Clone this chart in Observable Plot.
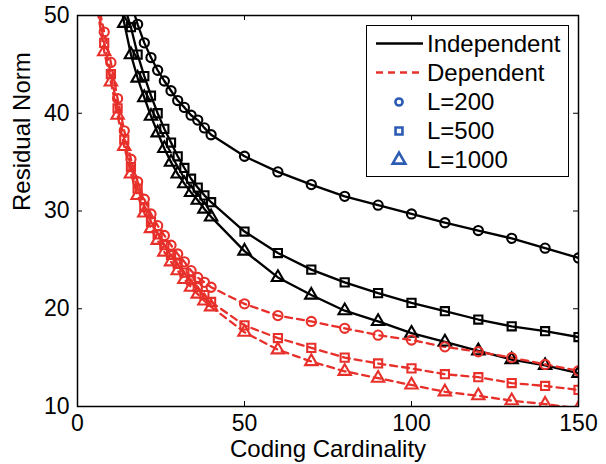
<!DOCTYPE html>
<html>
<head>
<meta charset="utf-8">
<script src="https://cdn.jsdelivr.net/npm/d3@7"></script>
<script src="https://cdn.jsdelivr.net/npm/@observablehq/plot@0.6"></script>
<style>
  body { margin: 0; background: #fff; }
  #wrap { position: relative; width: 606px; height: 464px; font-family: "Liberation Sans", Arial, Helvetica, sans-serif; }
  #legend { position: absolute; left: 366px; top: 25px; width: 203px; height: 152px; box-sizing: border-box;
            border: 1.4px solid #000; background: #fff; }
  .row { position: absolute; left: 0; height: 29px; display: flex; align-items: center; font-size: 24px; color: #000; }
  .row svg { width: 60px; height: 29px; flex: none; }
</style>
</head>
<body>
<div id="wrap"><div id="legend"></div></div>
<script>
// ---------- data ----------
const xTicks = [0, 50, 100, 150];
const yTicks = [10, 20, 30, 40, 50];
const typeNames = ["Independent", "Dependent"];
const lLabels = ["L=200", "L=500", "L=1000"];

const xIndep200 = [16,18,20,22,24,26,28,30,32,34,36,38,40,50,60,70,80,90,100,110,120,130,140,150];
const yIndep200 = [51.3,49.1,47.2,45.7,44.4,43.3,42.3,41.3,40.6,39.8,39.3,38.5,37.8,35.6,34.0,32.7,31.5,30.6,29.7,28.8,28.0,27.2,26.2,25.2];

const xIndep500 = [14,16,18,20,22,24,26,28,30,32,34,36,38,40,50,60,70,80,90,100,110,120,130,140,150];
const yIndep500 = [51.0,48.8,46.0,43.8,41.8,40.0,38.4,37.0,35.6,34.4,33.3,32.4,31.6,30.9,27.9,25.7,24.0,22.7,21.6,20.6,19.75,18.9,18.2,17.7,17.1];

const xIndep1000 = [12,14,16,18,20,22,24,26,28,30,32,34,36,38,40,50,60,70,80,90,100,110,120,130,140,150];
const yIndep1000 = [52.8,49.2,46.0,43.6,41.6,39.7,38.0,36.4,35.0,33.8,32.8,31.9,31.1,30.2,29.4,25.9,23.2,21.4,19.8,18.7,17.5,16.6,15.7,14.8,14.2,13.4];

const xDep = [6,8,10,12,14,16,18,20,22,24,26,28,30,32,34,36,38,40,50,60,70,80,90,100,110,120,130,140,150];
const yDep200  = [51.5,48.3,45.2,41.5,38.2,35.3,33.0,31.2,29.7,28.5,27.5,26.5,25.6,24.8,23.9,23.2,22.7,22.2,20.5,19.3,18.7,18.0,17.3,16.8,16.1,15.6,15.0,14.3,13.65];
const yDep500  = [51.0,47.2,44.0,40.5,37.3,34.5,32.3,30.4,28.9,27.6,26.5,25.5,24.6,23.7,22.9,22.2,21.4,20.7,18.3,17.0,16.0,15.0,14.4,13.9,13.3,13.0,12.4,12.1,11.7];
const yDep1000 = [50.5,46.3,43.2,39.8,36.6,33.8,31.6,29.8,28.2,27.0,25.8,24.8,23.9,23.0,22.2,21.5,20.8,20.2,17.6,15.8,14.6,13.6,12.9,12.2,11.5,11.1,10.6,10.25,9.8];

// ---------- build table ----------
const series = [
  {type: typeNames[0], L: lLabels[0], xs: xIndep200,  ys: yIndep200},
  {type: typeNames[0], L: lLabels[1], xs: xIndep500,  ys: yIndep500},
  {type: typeNames[0], L: lLabels[2], xs: xIndep1000, ys: yIndep1000},
  {type: typeNames[1], L: lLabels[0], xs: xDep, ys: yDep200},
  {type: typeNames[1], L: lLabels[1], xs: xDep, ys: yDep500},
  {type: typeNames[1], L: lLabels[2], xs: xDep, ys: yDep1000}
];
const rows = series.flatMap(s => s.xs.map((x, i) => ({x, y: s.ys[i], type: s.type, L: s.L, key: s.type + s.L})));
const indep = rows.filter(d => d.type === typeNames[0]);
const dep = rows.filter(d => d.type === typeNames[1]);

const RED = "#e8302b";
const BLUE = "#2b5bb3";
const W = 606, H = 464, ML = 77, MR = 28, MT = 15, MB = 58;
const innerW = W - ML - MR, innerH = H - MT - MB;

const chart = Plot.plot({
  width: W, height: H,
  marginLeft: ML, marginRight: MR, marginTop: MT, marginBottom: MB,
  style: {fontFamily: '"Liberation Sans", Arial, Helvetica, sans-serif', fontSize: "23px", background: "#fff", color: "#000"},
  x: {domain: [0, 150]},
  y: {domain: [10, 50]},
  symbol: {domain: lLabels, range: ["circle", "square", "triangle"]},
  marks: [
    Plot.line(indep, {x: "x", y: "y", z: "key", stroke: "#000", strokeWidth: 2.3, clip: true}),
    Plot.line(dep, {x: "x", y: "y", z: "key", stroke: RED, strokeWidth: 2.3, strokeDasharray: "7,5", clip: true}),
    Plot.dot(indep, {x: "x", y: "y", symbol: "L", r: 4.6, stroke: "#000", strokeWidth: 2.1, fill: "none", clip: true}),
    Plot.dot(dep, {x: "x", y: "y", symbol: "L", r: 4.6, stroke: RED, strokeWidth: 2.1, fill: "none", clip: true}),
    Plot.tickX(xTicks, {x: d => d, insetTop: innerH - 5, stroke: "#000", strokeWidth: 1}),
    Plot.tickX(xTicks, {x: d => d, insetBottom: innerH - 5, stroke: "#000", strokeWidth: 1}),
    Plot.tickY(yTicks, {y: d => d, insetRight: innerW - 5, stroke: "#000", strokeWidth: 1}),
    Plot.tickY(yTicks, {y: d => d, insetLeft: innerW - 5, stroke: "#000", strokeWidth: 1}),
    Plot.frame({stroke: "#000", strokeWidth: 1.5}),
    Plot.axisX({ticks: xTicks, tickSize: 0, tickPadding: 8, label: null, tickFormat: d => String(d)}),
    Plot.axisY({ticks: yTicks, tickSize: 0, tickPadding: 8, label: null, tickFormat: d => String(d)}),
    Plot.text(["Coding Cardinality"], {text: d => d, frameAnchor: "bottom", lineAnchor: "middle", dy: 43, fontSize: 24}),
    Plot.text(["Residual Norm"], {text: d => d, frameAnchor: "left", lineAnchor: "middle", dx: -55, rotate: -90, fontSize: 24})
  ]
});
document.getElementById("wrap").prepend(chart);

// ---------- legend ----------
const legend = document.getElementById("legend");
const entries = [
  {label: typeNames[0], kind: "line", color: "#000", dash: null},
  {label: typeNames[1], kind: "line", color: RED, dash: "7,5"},
  {label: lLabels[0], kind: "sym", sym: d3.symbolCircle, size: 40},
  {label: lLabels[1], kind: "sym", sym: d3.symbolSquare, size: 48},
  {label: lLabels[2], kind: "sym", sym: d3.symbolTriangle, size: 70}
];
entries.forEach((e, i) => {
  const row = document.createElement("div");
  row.className = "row";
  row.style.top = (3 + i * 29) + "px";
  const ns = "http://www.w3.org/2000/svg";
  const svg = document.createElementNS(ns, "svg");
  svg.setAttribute("viewBox", "0 0 60 29");
  if (e.kind === "line") {
    const ln = document.createElementNS(ns, "line");
    ln.setAttribute("x1", 9); ln.setAttribute("x2", 56);
    ln.setAttribute("y1", 14.5); ln.setAttribute("y2", 14.5);
    ln.setAttribute("stroke", e.color); ln.setAttribute("stroke-width", 2.4);
    if (e.dash) ln.setAttribute("stroke-dasharray", e.dash);
    svg.appendChild(ln);
  } else {
    const p = document.createElementNS(ns, "path");
    p.setAttribute("d", d3.symbol().type(e.sym).size(e.size)());
    p.setAttribute("transform", "translate(32,15)");
    p.setAttribute("fill", "none"); p.setAttribute("stroke", BLUE); p.setAttribute("stroke-width", 2.6);
    svg.appendChild(p);
  }
  row.appendChild(svg);
  const t = document.createElement("span");
  t.textContent = e.label;
  row.appendChild(t);
  legend.appendChild(row);
});
</script>
</body>
</html>
